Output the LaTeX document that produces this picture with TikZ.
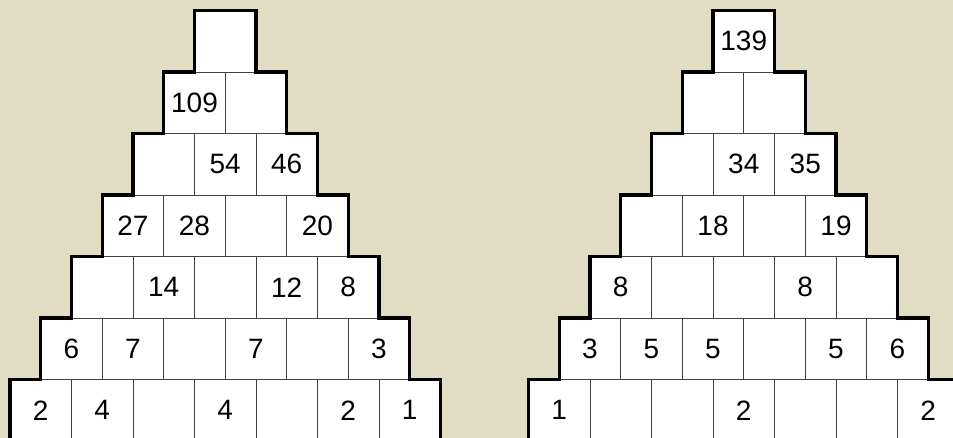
\documentclass[tikz,border=0pt]{standalone}
\usepackage{fontspec}
\setmainfont{Liberation Sans}
\definecolor{bg}{RGB}{225,220,196}
\newcommand\prow[4]{\foreach \t [count=\j] in {#4} {\node[cell] (#1-#3-\j) at ({#2+(\j-1-#3/2)*61.5+30.75},{10.5+#3*61.5+30.75}) {\t};}}
\newcommand\poutline[1]{\draw[outline] (#1-6-1.south west) -- (#1-6-1.north west) -- (#1-5-1.south west) -- (#1-5-1.north west) -- (#1-4-1.south west) -- (#1-4-1.north west) -- (#1-3-1.south west) -- (#1-3-1.north west) -- (#1-2-1.south west) -- (#1-2-1.north west) -- (#1-1-1.south west) -- (#1-1-1.north west) -- (#1-0-1.south west) -- (#1-0-1.north west) -- (#1-0-1.north east) -- (#1-0-1.south east) -- (#1-1-2.north east) -- (#1-1-2.south east) -- (#1-2-3.north east) -- (#1-2-3.south east) -- (#1-3-4.north east) -- (#1-3-4.south east) -- (#1-4-5.north east) -- (#1-4-5.south east) -- (#1-5-6.north east) -- (#1-5-6.south east) -- (#1-6-7.north east) -- (#1-6-7.south east);}
\begin{document}
\begin{tikzpicture}[x=1pt,y=-1pt,
  cell/.style={draw=black!75, line width=0.9pt, fill=white, minimum width=61.5pt, minimum height=61.5pt, inner sep=0pt, outer sep=0pt, font=\fontsize{28}{28}\selectfont},
  outline/.style={line width=3.2pt, line join=miter}]
\useasboundingbox (0,0) rectangle (953,438);
\clip (0,0) rectangle (953,438);
\fill[bg] (0,0) rectangle (953,438);
% left pyramid
\node[cell] (L-0-1) at (225.25,41.25) {};
\prow{L}{194.5}{1}{109,{}}
\prow{L}{194.5}{2}{{},54,46}
\prow{L}{194.5}{3}{27,28,{},20}
\prow{L}{194.5}{4}{{},14,{},12,8}
\prow{L}{194.5}{5}{6,7,{},7,{},3}
\prow{L}{194.5}{6}{2,4,{},4,{},2,1}
\poutline{L}
% right pyramid
\node[cell] (R-0-1) at (743.75,41.25) {139};
\prow{R}{713}{1}{{},{}}
\prow{R}{713}{2}{{},34,35}
\prow{R}{713}{3}{{},18,{},19}
\prow{R}{713}{4}{8,{},{},8,{}}
\prow{R}{713}{5}{3,5,5,{},5,6}
\prow{R}{713}{6}{1,{},{},2,{},{},2}
\poutline{R}
\end{tikzpicture}
\end{document}
